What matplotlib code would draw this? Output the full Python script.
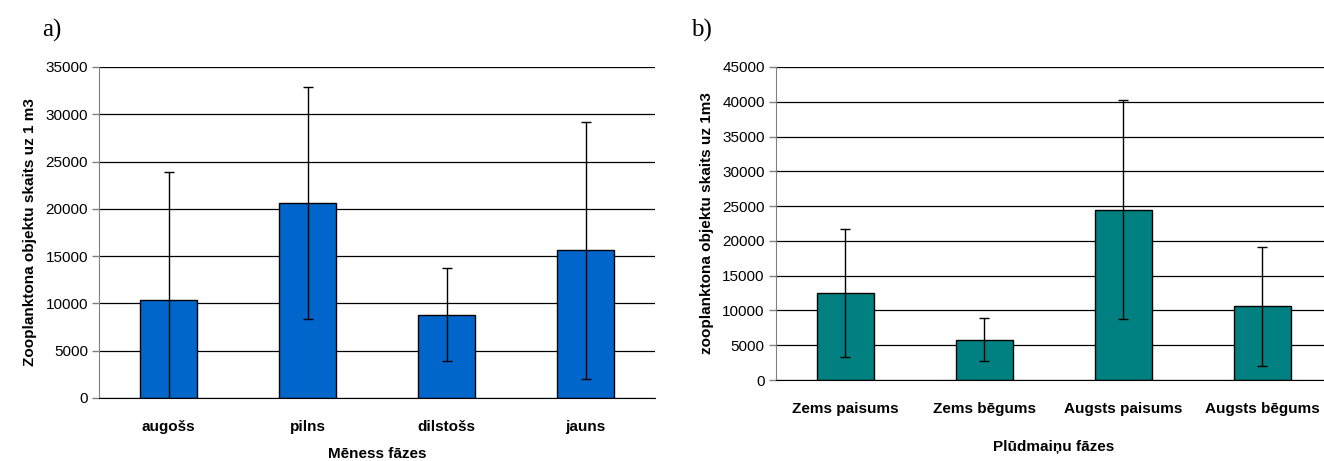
"""
Zooplankton abundance per 1 m3 by moon phase (a) and tidal phase (b),
mean +/- deviation, drawn as two Excel-style bar charts side by side.
"""
import matplotlib
matplotlib.use("Agg")
import matplotlib.pyplot as plt

# a) moon phases
moon_phases = ["augošs", "pilns", "dilstošs", "jauns"]
moon_means = [10400, 20600, 8800, 15600]
moon_err = [13500, 12250, 4900, 13600]
moon_ticks = [0, 5000, 10000, 15000, 20000, 25000, 30000, 35000]

# b) tidal phases
tide_phases = ["Zems paisums", "Zems bēgums", "Augsts paisums", "Augsts bēgums"]
tide_means = [12500, 5800, 24500, 10600]
tide_err = [9150, 3100, 15700, 8550]
tide_ticks = [0, 5000, 10000, 15000, 20000, 25000, 30000, 35000, 40000, 45000]

plt.rcParams['font.family'] = ['Liberation Sans', 'DejaVu Sans']


def draw_panel(ax, cats, means, errs, ticks, color, ylabel, xlabel, xlabel_pad):
    x = range(len(cats))
    ax.set_axisbelow(True)
    ax.yaxis.grid(True, color='black', linewidth=0.9)
    ax.bar(x, means, width=0.41, color=color, edgecolor='black', linewidth=1.0,
           zorder=2)
    ax.errorbar(x, means, yerr=errs, fmt='none', ecolor='black', elinewidth=1.0,
                capsize=3.5, capthick=1.0, zorder=3)
    ax.set_xlim(-0.5, len(cats) - 0.5)
    ax.set_ylim(ticks[0], ticks[-1])
    ax.set_yticks(ticks)
    ax.set_yticklabels([str(t) for t in ticks], fontsize=11)
    ax.set_xticks(list(x))
    ax.set_xticklabels(cats, fontsize=11, fontweight='bold')
    ax.tick_params(axis='x', length=0, pad=16)
    ax.tick_params(axis='y', length=5, width=1, color='#808080', pad=3)
    for s in ['top', 'right']:
        ax.spines[s].set_visible(False)
    ax.spines['left'].set_color('#808080')
    ax.spines['bottom'].set_color('black')
    ax.set_ylabel(ylabel, fontsize=11, fontweight='bold', labelpad=6)
    ax.set_xlabel(xlabel, fontsize=11, fontweight='bold', labelpad=xlabel_pad)


def main():
    fig = plt.figure(figsize=(13.24, 4.61), dpi=100)
    ax1 = fig.add_axes([0.0748, 0.1367, 0.42, 0.718])
    ax2 = fig.add_axes([0.586, 0.1757, 0.42, 0.679])

    draw_panel(ax1, moon_phases, moon_means, moon_err, moon_ticks, '#0066CC',
               "Zooplanktona objektu skaits uz 1 m3", "Mēness fāzes", 9)
    draw_panel(ax2, tide_phases, tide_means, tide_err, tide_ticks, '#008080',
               "zooplanktona objektu skaits uz 1m3", "Plūdmaiņu fāzes", 17)

    fig.text(0.032, 0.935, "a)", fontsize=18, family='Liberation Serif',
             va='center')
    fig.text(0.522, 0.935, "b)", fontsize=18, family='Liberation Serif',
             va='center')

    fig.savefig("out.png", dpi=100)


if __name__ == "__main__":
    main()
